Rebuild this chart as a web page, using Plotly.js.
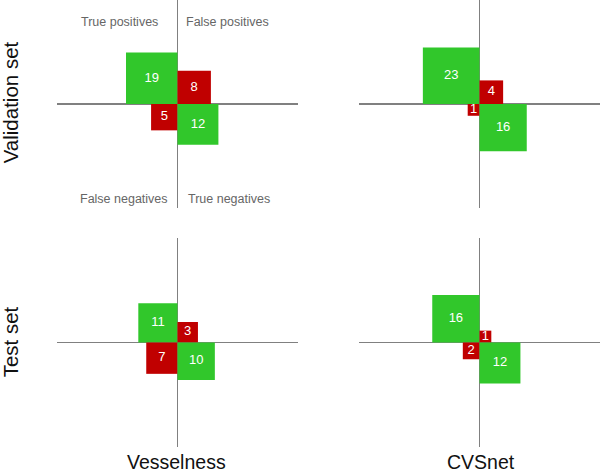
<!DOCTYPE html>
<html>
<head>
<meta charset="utf-8">
<script src="https://cdn.plot.ly/plotly-3.0.1.min.js"></script>
<style>
  html, body { margin: 0; padding: 0; background: white; }
  #chart { width: 600px; height: 475px; }
</style>
</head>
<body>
<div id="chart"></div>
<script>
// Panels: Validation/Vesselness, Validation/CVSnet, Test/Vesselness, Test/CVSnet
const methods = ['Vesselness', 'CVSnet'];
const sets = ['Validation set', 'Test set'];
const truePos = [19, 23, 11, 16];
const falsePos = [8, 4, 3, 1];
const falseNeg = [5, 1, 7, 2];
const trueNeg = [12, 16, 10, 12];
const quadrantLabels = ['True positives', 'False positives', 'False negatives', 'True negatives'];

const green = '#31C72B';
const red = '#C00000';

const data = [];

for (let p = 0; p < 4; p++) {
    const ax = p === 0 ? '' : String(p + 1);
    // side of each square = sqrt(count), so area is the count
    const cells = [
        { n: truePos[p], dx: -1, up: true, color: green },
        { n: falsePos[p], dx: 1, up: true, color: red },
        { n: falseNeg[p], dx: -1, up: false, color: red },
        { n: trueNeg[p], dx: 1, up: false, color: green }
    ];
    cells.forEach(c => {
        const s = Math.sqrt(c.n);
        data.push({
            type: 'bar',
            x: [c.dx * s / 2],
            y: [s],
            base: [c.up ? 0 : -s],
            width: [s],
            marker: { color: c.color, line: { width: 0 } },
            xaxis: 'x' + ax,
            yaxis: 'y' + ax,
            showlegend: false,
            hoverinfo: 'none'
        });
        data.push({
            type: 'scatter',
            mode: 'text',
            x: [c.dx * s / 2],
            y: [c.up ? s / 2 : -s / 2],
            text: [String(c.n)],
            textposition: 'middle center',
            textfont: { family: 'Liberation Sans, Arial', size: 13, color: 'white' },
            xaxis: 'x' + ax,
            yaxis: 'y' + ax,
            showlegend: false,
            hoverinfo: 'none'
        });
    });
}

const axisBase = {
    showgrid: false,
    showticklabels: false,
    ticks: '',
    showline: false,
    zeroline: true,
    zerolinecolor: '#808080',
    zerolinewidth: 1.5,
    fixedrange: true
};
const xRange = [-10.2, 10.2];
const yRange = [-8.82, 8.82];
const leftDom = [0, 0.4438];
const rightDom = [0.5562, 1];
const topDom = [0.5347, 1];
const botDom = [0, 0.4676];

const annotations = [];
const labelPos = [[-4.9, 6.97], [4.23, 6.97], [-4.55, -8.08], [4.38, -8.08]];
quadrantLabels.forEach((t, i) => {
    annotations.push({
        text: t, xref: 'x', yref: 'y', x: labelPos[i][0], y: labelPos[i][1],
        xanchor: 'center', yanchor: 'middle',
        showarrow: false, font: { family: 'Liberation Sans, Arial', size: 12.5, color: '#666666' }
    });
});
const setFont = { family: 'Liberation Sans, Arial', size: 20.5, color: '#111111' };
const methodFont = { family: 'Liberation Sans, Arial', size: 19.5, color: '#111111' };
function outerLabel(text, x, y, angle, font) {
    return {
        text: text, xref: 'paper', yref: 'paper', x: x, y: y, textangle: angle,
        xanchor: 'center', yanchor: 'middle', showarrow: false, font: font,
        borderpad: 0
    };
}
annotations.push(outerLabel(sets[0], -0.084, 0.772, -90, setFont));
annotations.push(outerLabel(sets[1], -0.084, 0.235, -90, setFont));
annotations.push(outerLabel(methods[0], 0.220, -0.034, 0, methodFont));
annotations.push(outerLabel(methods[1], 0.781, -0.034, 0, methodFont));

const layout = {
    width: 600,
    height: 475,
    margin: { l: 57, r: 0, t: 0, b: 28 },
    paper_bgcolor: 'white',
    plot_bgcolor: 'white',
    barmode: 'overlay',
    showlegend: false,
    xaxis: Object.assign({}, axisBase, { domain: leftDom, range: xRange, anchor: 'y' }),
    yaxis: Object.assign({}, axisBase, { domain: topDom, range: yRange, anchor: 'x' }),
    xaxis2: Object.assign({}, axisBase, { domain: rightDom, range: xRange, anchor: 'y2' }),
    yaxis2: Object.assign({}, axisBase, { domain: topDom, range: yRange, anchor: 'x2' }),
    xaxis3: Object.assign({}, axisBase, { domain: leftDom, range: xRange, anchor: 'y3' }),
    yaxis3: Object.assign({}, axisBase, { domain: botDom, range: yRange, anchor: 'x3' }),
    xaxis4: Object.assign({}, axisBase, { domain: rightDom, range: xRange, anchor: 'y4' }),
    yaxis4: Object.assign({}, axisBase, { domain: botDom, range: yRange, anchor: 'x4' }),
    annotations: annotations
};

Plotly.newPlot('chart', data, layout, { displayModeBar: false, staticPlot: true });
</script>
</body>
</html>
